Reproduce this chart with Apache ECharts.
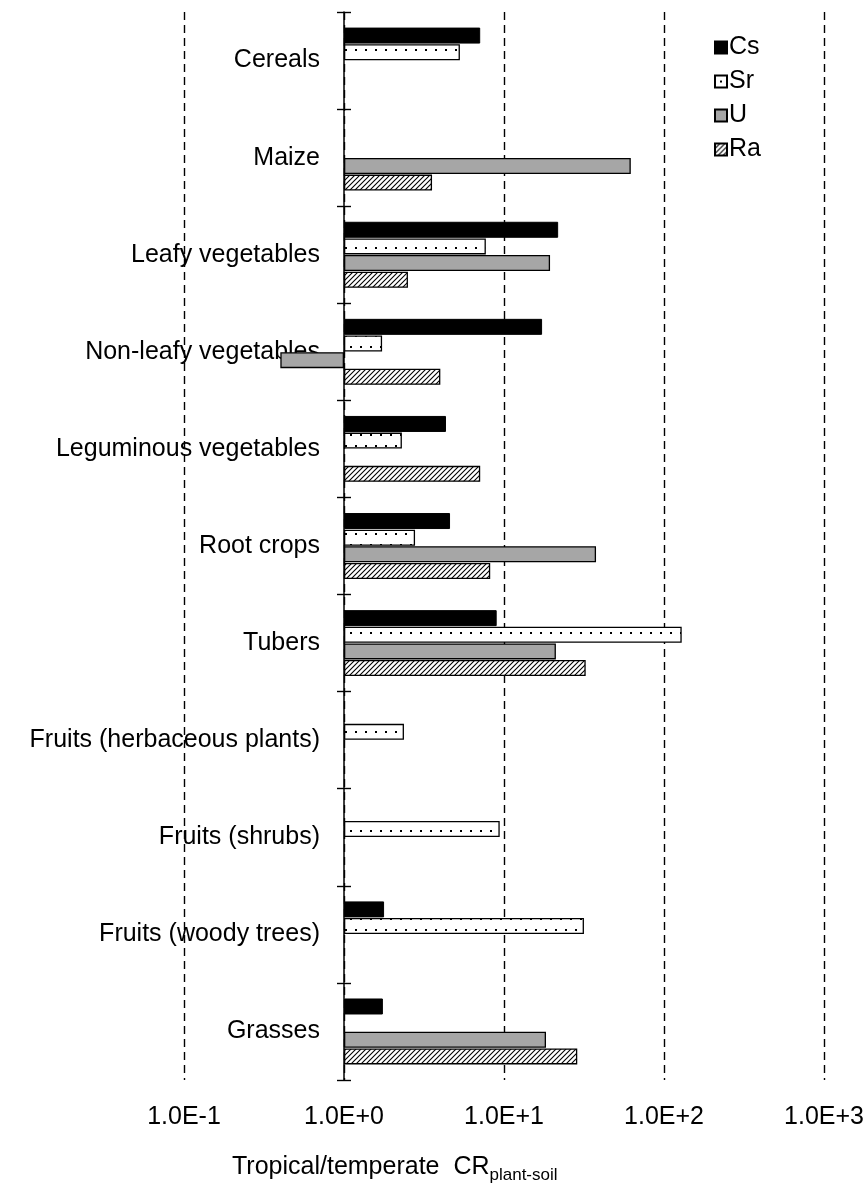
<!DOCTYPE html>
<html>
<head>
<meta charset="utf-8">
<script src="https://cdn.jsdelivr.net/npm/echarts@6/dist/echarts.min.js"></script>
<style>
  html, body { margin: 0; padding: 0; background: #fff; }
  #chart { width: 868px; height: 1187px; }
</style>
</head>
<body>
<div id="chart"></div>
<script>
const categories = [
  "Cereals", "Maize", "Leafy vegetables", "Non-leafy vegetables",
  "Leguminous vegetables", "Root crops", "Tubers",
  "Fruits (herbaceous plants)", "Fruits (shrubs)", "Fruits (woody trees)", "Grasses"
];
const cs = [7.1, "-", 21.8, 17.3, 4.34, 4.6, 9.0, "-", "-", 1.78, 1.75];
const sr = [5.3, "-", 7.7, 1.73, 2.3, 2.78, 129, 2.37, 9.4, 31.6, "-"];
const u  = ["-", 62, 19.4, 0.4, "-", 37.6, 21.1, "-", "-", "-", 18.3];
const ra = ["-", 3.55, 2.51, 4.0, 7.1, 8.2, 32.4, "-", "-", "-", 28.7];
const xTicks = [0.1, 1, 10, 100, 1000];

const FONT = "'Liberation Sans', Arial, sans-serif";

// fill patterns like the Excel ones
function dotPattern() {
  const c = document.createElement("canvas");
  c.width = 10; c.height = 22;
  const g = c.getContext("2d");
  g.fillStyle = "#fff"; g.fillRect(0, 0, 10, 22);
  g.fillStyle = "#000";
  g.fillRect(5, 5, 2, 2);
  g.fillRect(0, 16, 2, 2);
  return { image: c, repeat: "repeat" };
}
function hatchPattern() {
  const c = document.createElement("canvas");
  c.width = 5; c.height = 5;
  const g = c.getContext("2d");
  g.fillStyle = "#fff"; g.fillRect(0, 0, 5, 5);
  g.strokeStyle = "#000"; g.lineWidth = 1.1;
  g.beginPath();
  g.moveTo(-1, 6); g.lineTo(6, -1);
  g.moveTo(-1, 1); g.lineTo(1, -1);
  g.moveTo(4, 6); g.lineTo(6, 4);
  g.stroke();
  return { image: c, repeat: "repeat" };
}

const chart = echarts.init(document.getElementById("chart"));

const barBase = { type: "bar", barWidth: 16, barGap: "4%", yAxisIndex: 0 };

chart.setOption({
  animation: false,
  textStyle: { fontFamily: FONT },
  grid: { left: 184, right: 44, top: 12, bottom: 107 },
  legend: {
    orient: "vertical",
    left: 709,
    top: 30,
    icon: "rect",
    itemWidth: 12,
    itemHeight: 12,
    itemGap: 9,
    textStyle: { fontSize: 25, color: "#000", fontFamily: FONT, padding: [0, 0, 0, -3] },
    data: ["Cs", "Sr", "U", "Ra"]
  },
  xAxis: {
    type: "log",
    logBase: 10,
    min: xTicks[0],
    max: xTicks[xTicks.length - 1],
    axisLine: { show: false },
    axisTick: { show: false },
    axisLabel: {
      margin: 25,
      fontSize: 25,
      color: "#000",
      fontFamily: FONT,
      formatter: (v) => {
        const e = Math.round(Math.log10(v));
        return "1.0E" + (e >= 0 ? "+" : "") + e;
      }
    },
    splitLine: {
      show: true,
      lineStyle: { color: "#000", width: 1.4, type: [8, 5] }
    }
  },
  yAxis: [
    {
      type: "category",
      position: "left",
      data: categories,
      inverse: true,
      offset: -160,
      axisLine: { show: true, onZero: false, lineStyle: { color: "#000", width: 1.5 } },
      axisTick: { show: true, inside: false, length: 7, lineStyle: { color: "#000", width: 1.4 } },
      axisLabel: { margin: 24, fontSize: 25, color: "#000", fontFamily: FONT },
      splitLine: { show: false }
    },
    {
      // second copy only for the inner half of the crossing ticks
      type: "category",
      position: "left",
      data: categories,
      inverse: true,
      offset: -160,
      axisLine: { show: false, onZero: false },
      axisTick: { show: true, inside: true, length: 7, lineStyle: { color: "#000", width: 1.4 } },
      axisLabel: { show: false },
      splitLine: { show: false }
    }
  ],
  series: [
    Object.assign({}, barBase, {
      name: "Cs", data: cs,
      itemStyle: { color: "#000", borderColor: "#000", borderWidth: 1 }
    }),
    Object.assign({}, barBase, {
      name: "Sr", data: sr,
      itemStyle: { color: dotPattern(), borderColor: "#000", borderWidth: 1.3 }
    }),
    Object.assign({}, barBase, {
      name: "U", data: u,
      itemStyle: { color: "#a6a6a6", borderColor: "#000", borderWidth: 1.3 }
    }),
    Object.assign({}, barBase, {
      name: "Ra", data: ra,
      itemStyle: { color: hatchPattern(), borderColor: "#000", borderWidth: 1.3 }
    })
  ],
  graphic: [
    {
      type: "text",
      left: 232,
      top: 1150,
      style: {
        text: "Tropical/temperate  CR{sub|plant-soil}",
        fontSize: 25,
        fontFamily: FONT,
        fill: "#000",
        lineHeight: 34,
        rich: {
          sub: { fontSize: 17, fontFamily: FONT, fill: "#000", lineHeight: 14, verticalAlign: "bottom" }
        }
      }
    }
  ]
});

window.addEventListener("resize", () => chart.resize());
</script>
</body>
</html>
